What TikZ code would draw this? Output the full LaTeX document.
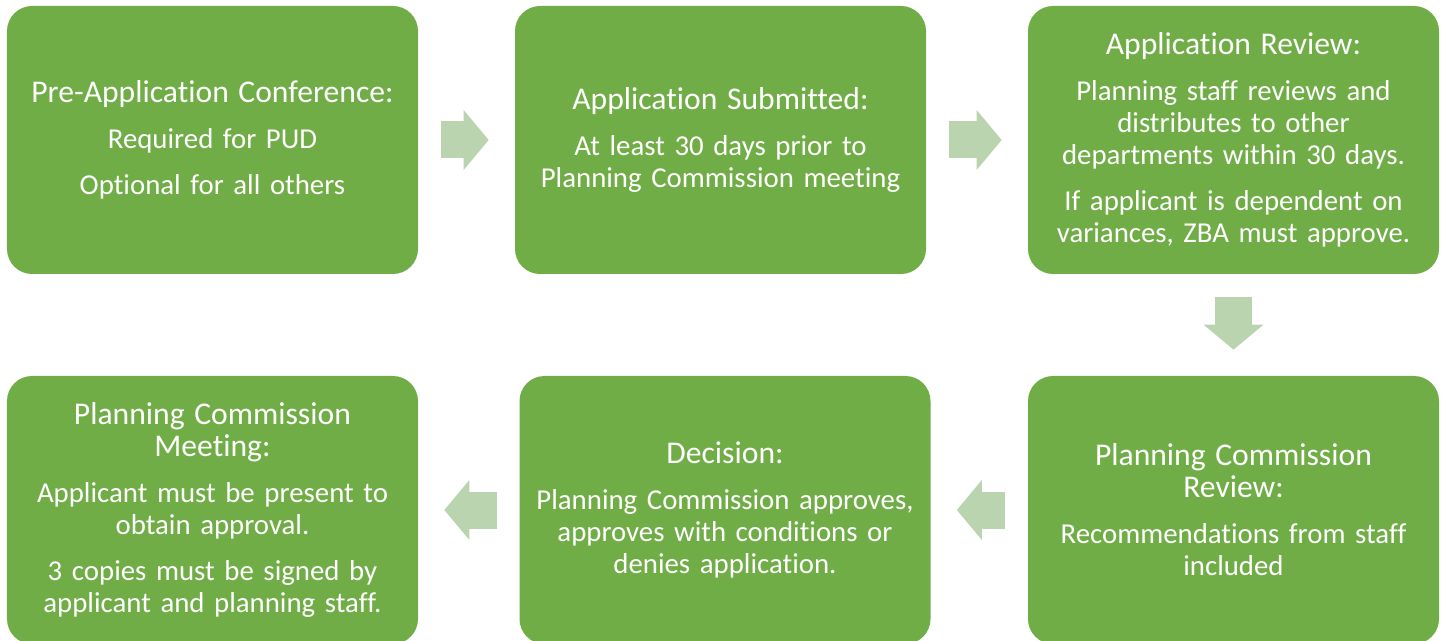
\documentclass[tikz,border=0pt]{standalone}
\usepackage{fontspec}
\setmainfont{Carlito}[Ligatures=NoCommon]
\usetikzlibrary{arrows.meta}
\definecolor{stepgreen}{RGB}{112,173,71}
\definecolor{arrowgreen}{RGB}{187,212,176}
\newcommand{\ttl}{\fontsize{18}{19.4}\selectfont}
\tikzstyle{stepbox} = [rectangle, rounded corners=0.5cm, minimum width=8.22cm, minimum height=5.36cm, text width=7.9cm, inner sep=0.16cm, align=center, fill=stepgreen, text=white, font=\fontsize{16.4}{18.2}\selectfont]
\tikzstyle{arrow} = [line width=0.74cm, arrowgreen, -{Triangle[length=0.5cm, width=1.2cm, line width=0pt]}, shorten <=0.45cm, shorten >=0.52cm]

\begin{document}
\begin{tikzpicture}[node distance=2cm]

    \useasboundingbox (0,0) rectangle (28.94,-12.82);

    % Nodes
    \node (pre) [stepbox] at (4.25,-2.8) {{\ttl Pre-Application Conference:}\\[8pt] Required for PUD\\[8pt] Optional for all others};
    \node (submit) [stepbox, right of=pre, xshift=8.16cm] {{\ttl Application Submitted:}\\[8pt] At least 30 days prior to\\ Planning Commission meeting};
    \node (review) [stepbox, right of=submit, xshift=8.26cm] {{\ttl Application Review:}\\[8pt] Planning staff reviews and\\ distributes to other\\ departments within 30 days.\\[8pt] If applicant is dependent on\\ variances, ZBA must approve.};
    \node (pcreview) [stepbox, below of=review, yshift=-5.4cm] {{\ttl Planning Commission\\ Review:}\\[8pt] Recommendations from staff\\ included};
    \node (decision) [stepbox, left of=pcreview, xshift=-8.17cm] {{\ttl Decision:}\\[8pt] Planning Commission approves,\\ approves with conditions or\\ denies application.};
    \node (meeting) [stepbox, left of=decision, xshift=-8.25cm] {{\ttl Planning Commission\\ Meeting:}\\[8pt] Applicant must be present to\\ obtain approval.\\[8pt] 3 copies must be signed by\\ applicant and planning staff.};

    % Arrows
    \draw [arrow] (pre) -- (submit);
    \draw [arrow] (submit) -- (review);
    \draw [arrow] (review) -- (pcreview);
    \draw [arrow] (pcreview) -- (decision);
    \draw [arrow] (decision) -- (meeting);

\end{tikzpicture}
\end{document}
